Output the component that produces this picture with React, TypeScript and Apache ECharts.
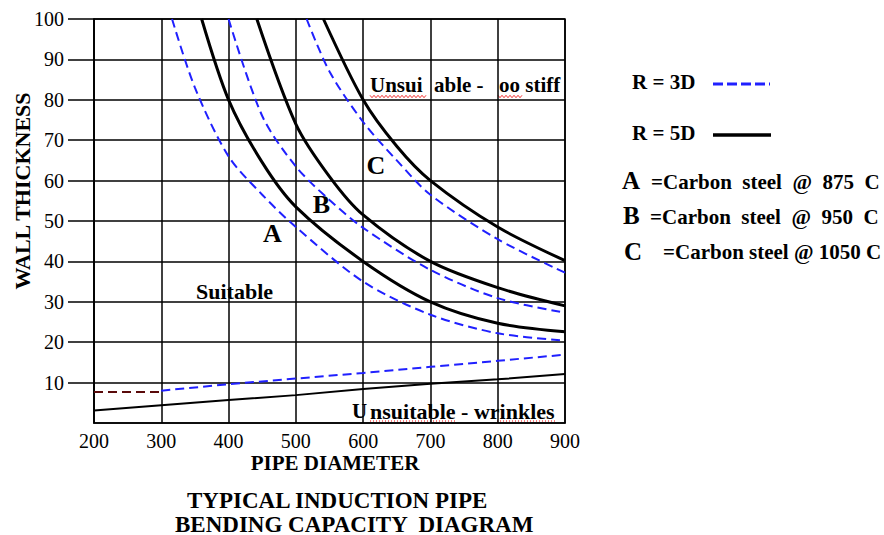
import React, { useEffect, useRef } from "react";
import * as echarts from "echarts";

// ---- Data ----
const xTicks = [200, 300, 400, 500, 600, 700, 800, 900];
const yTicks = [10, 20, 30, 40, 50, 60, 70, 80, 90, 100];

// R = 3D (dashed blue) and R = 5D (solid black) "too stiff" limits
const curveA3D: [number, number][] = [[316, 100], [350, 83], [400, 66], [450, 56.5], [500, 48.5], [600, 35], [700, 26.8], [800, 22.2], [900, 20.4]];
const curveA5D: [number, number][] = [[360, 100], [400, 80], [450, 64.5], [500, 53.5], [600, 40], [700, 30], [800, 24.7], [900, 22.6]];
const curveB3D: [number, number][] = [[400, 100], [450, 76], [500, 63.5], [550, 55.2], [600, 48.3], [700, 37.9], [800, 30.9], [900, 27.3]];
const curveB5D: [number, number][] = [[442, 100], [500, 74], [550, 61], [600, 51.5], [700, 40], [800, 33.5], [900, 29]];
const curveC3D: [number, number][] = [[516, 100], [550, 87], [600, 74.5], [650, 65], [700, 56.5], [800, 45.5], [900, 37.2]];
const curveC5D: [number, number][] = [[541, 100], [600, 80], [650, 68.5], [700, 60], [800, 48.5], [900, 40.2]];

// Wrinkling limits
const wrinkle3D: [number, number][] = [[300, 8.0], [400, 9.6], [500, 11.0], [600, 12.4], [700, 13.9], [800, 15.4], [900, 16.9]];
const wrinkle5D: [number, number][] = [[200, 3.1], [300, 4.4], [400, 5.7], [500, 6.9], [600, 8.4], [700, 9.7], [800, 10.8], [900, 12.1]];
const wrinkleLow: [number, number][] = [[200, 7.7], [300, 7.7]];

const SERIF = "'Liberation Serif', 'Times New Roman', serif";
const BLUE = "#2020ff";

function zigzag(x0: number, x1: number, y: number) {
  const pts: number[][] = [];
  let i = 0;
  for (let x = x0; x <= x1; x += 2, i++) pts.push([x, y + (i % 2 ? 1.2 : -1.2)]);
  return pts;
}

function txt(text: string, x: number, y: number, size: number, align = "left", extra: any = {}) {
  return {
    type: "text",
    x,
    y,
    ...extra,
    style: {
      text,
      font: `bold ${size}px ${SERIF}`,
      fill: "#000",
      align,
      verticalAlign: "middle",
      textAlign: align,
      textVerticalAlign: "middle",
      lineHeight: size,
    },
  };
}

const dashedStyle = { color: BLUE, width: 2, type: [9, 5] as any };
const solidStyle = { color: "#000", width: 3 };

function lineSeries(name: string, data: [number, number][], lineStyle: any, smooth: number | boolean = 0.3) {
  return {
    name,
    type: "line",
    data,
    smooth,
    symbol: "none",
    showSymbol: false,
    lineStyle,
    z: 3,
  };
}

export default function App() {
  const ref = useRef<HTMLDivElement>(null);
  useEffect(() => {
    if (!ref.current) return;
    const chart = echarts.init(ref.current, undefined, { renderer: "svg" });
    const axisLineStyle = { color: "#000", width: 1.5 };
    chart.setOption({
      animation: false,
      backgroundColor: "#fff",
      grid: { left: 94, top: 19, width: 471, height: 404, show: true, borderColor: "#000", borderWidth: 1.5 },
      xAxis: {
        type: "value",
        min: xTicks[0],
        max: xTicks[xTicks.length - 1],
        interval: 100,
        axisLine: { show: true, lineStyle: axisLineStyle },
        axisTick: { show: false },
        axisLabel: { fontFamily: SERIF, fontSize: 20, color: "#000", margin: 8 },
        splitLine: { show: true, lineStyle: axisLineStyle },
      },
      yAxis: {
        type: "value",
        min: 0,
        max: 100,
        interval: 10,
        axisLine: { show: true, lineStyle: axisLineStyle },
        axisTick: { show: true, length: 26, lineStyle: axisLineStyle, customValues: yTicks },
        axisLabel: { fontFamily: SERIF, fontSize: 20, color: "#000", margin: 30, customValues: yTicks },
        splitLine: { show: true, lineStyle: axisLineStyle },
      },
      series: [
        lineSeries("A 3D", curveA3D, dashedStyle),
        lineSeries("A 5D", curveA5D, solidStyle),
        lineSeries("B 3D", curveB3D, dashedStyle),
        lineSeries("B 5D", curveB5D, solidStyle),
        lineSeries("C 3D", curveC3D, dashedStyle),
        lineSeries("C 5D", curveC5D, solidStyle),
        lineSeries("Wrinkle 3D", wrinkle3D, dashedStyle, false),
        lineSeries("Wrinkle 5D", wrinkle5D, { color: "#000", width: 2 }, false),
        lineSeries("Wrinkle low", wrinkleLow, { color: "#5a0a0a", width: 2, type: [9, 5] }, false),
      ],
      graphic: [
        // axis titles and title
        txt("WALL THICKNESS", 22, 191, 22, "center", { rotation: Math.PI / 2 }),
        txt("PIPE DIAMETER", 335, 463, 21, "center"),
        txt("TYPICAL INDUCTION PIPE", 187, 500, 23, "left"),
        txt("BENDING CAPACITY  DIAGRAM", 175, 524, 23, "left"),
        // in-plot annotations
        txt("Unsui", 370, 85, 21),
        txt("able -", 434, 85, 21),
        txt("oo stiff", 499, 85, 21),
        { type: "polyline", shape: { points: zigzag(370, 427, 96.5) }, style: { stroke: "#e00", lineWidth: 0.8, fill: null } },
        { type: "polyline", shape: { points: zigzag(498, 522, 96.5) }, style: { stroke: "#e00", lineWidth: 0.8, fill: null } },
        txt("C", 376, 165, 26, "center"),
        txt("B", 321.5, 204, 26, "center"),
        txt("A", 272.5, 233, 26, "center"),
        txt("Suitable", 196, 291, 22),
        txt("U", 352, 411, 21),
        txt("nsuitable - wrinkles", 370, 411, 22),
        { type: "line", shape: { x1: 370, y1: 421, x2: 457, y2: 421 }, style: { stroke: "#e00", lineWidth: 1, lineDash: [1, 2] } },
        { type: "line", shape: { x1: 497, y1: 421, x2: 557, y2: 421 }, style: { stroke: "#e00", lineWidth: 1, lineDash: [1, 2] } },
        // legend
        txt("R = 3D", 632, 82, 21),
        { type: "line", shape: { x1: 713, y1: 84, x2: 770, y2: 84 }, style: { stroke: BLUE, lineWidth: 3, lineDash: [10, 4] } },
        txt("R = 5D", 632, 133, 21),
        { type: "line", shape: { x1: 713, y1: 135, x2: 771, y2: 135 }, style: { stroke: "#000", lineWidth: 3.5 } },
        txt("A", 622, 180, 25),
        txt("=Carbon  steel  @  875  C", 651, 182, 21),
        txt("B", 623, 215, 25),
        txt("=Carbon  steel  @  950  C", 650, 217, 21),
        txt("C", 624, 251, 25),
        txt("=Carbon steel @ 1050 C", 663, 252, 21),
      ],
    });
    return () => chart.dispose();
  }, []);
  return (
    <div
      ref={ref}
      style={{ position: "fixed", left: 0, top: 0, width: 884, height: 535, background: "#fff" }}
    />
  );
}
